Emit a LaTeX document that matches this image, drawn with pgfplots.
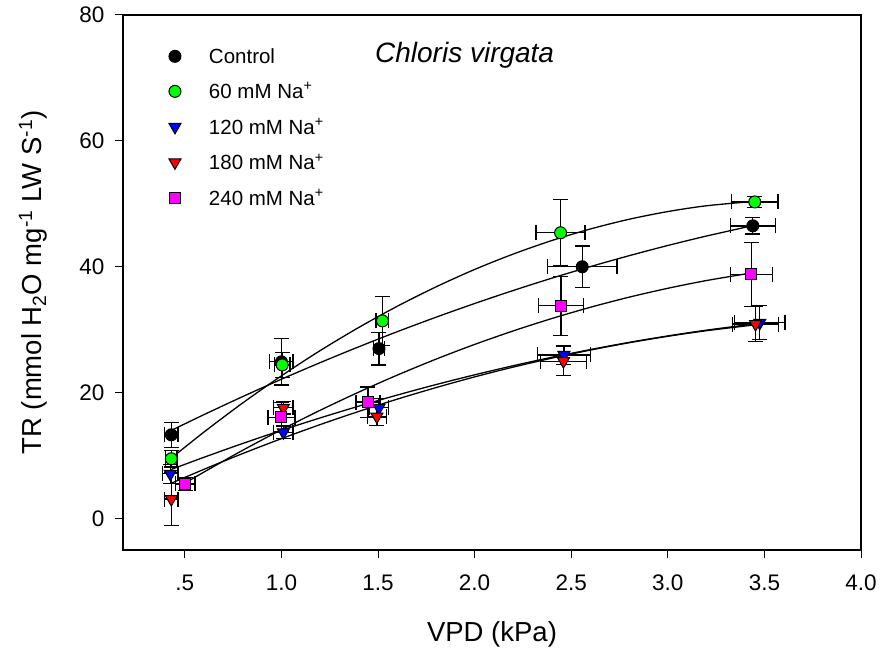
\documentclass[border=0pt]{standalone}
\usepackage{pgfplots}
\pgfplotsset{compat=1.18}
\usepackage{fontspec}
\setmainfont{Liberation Sans}
\definecolor{cgreen}{RGB}{0,255,0}
\definecolor{cblue}{RGB}{0,0,255}
\definecolor{cred}{RGB}{255,0,0}
\definecolor{cmag}{RGB}{255,0,255}
\begin{document}
\begin{tikzpicture}
\path[use as bounding box] (-123pt,-103pt) rectangle (758pt,550pt);
\begin{axis}[
  at={(0pt,0pt)}, anchor=south west,
  scale only axis, width=738pt, height=535pt,
  xmin=0.18, xmax=4.0, ymin=-5, ymax=80,
  xtick={0.5,1.0,1.5,2.0,2.5,3.0,3.5,4.0},
  xticklabels={.5,1.0,1.5,2.0,2.5,3.0,3.5,4.0},
  ytick={0,20,40,60,80},
  yticklabels={0,20,40,60,80},
  tick align=outside, xtick pos=bottom, ytick pos=left,
  major tick length=8pt,
  tick style={black, line width=1pt},
  axis line style={line width=1.2pt},
  ticklabel style={font=\fontsize{22.5}{27}\selectfont},
  xticklabel style={yshift=-13pt},
  yticklabel style={xshift=-7pt},
  xlabel={VPD (kPa)},
  ylabel={TR (mmol H\textsubscript{2}O mg\textsuperscript{-1} LW S\textsuperscript{-1})},
  label style={font=\fontsize{27.5}{33}\selectfont},
  xlabel style={at={(axis description cs:0.5,-0.158)}, anchor=center},
  ylabel style={at={(axis description cs:-0.122,0.5)}, anchor=center},
  legend style={at={(axis cs:0.36,75.4)}, anchor=north west, draw=none, fill=none,
    font=\fontsize{20.5}{24}\selectfont, row sep=14.2pt},
  legend cell align=left,
  legend image code/.code={\path[draw=none, fill=none] (-14pt,0pt) rectangle (32pt,0pt); \draw[#1] plot[only marks] coordinates {(0pt,0pt)};},
  error bars/error bar style={black, line width=1.3pt},
  error bars/error mark options={rotate=90, black, mark size=7.5pt, line width=1.3pt},
]
% fitted curves
\addplot[black, line width=1.3pt, smooth, no marks, forget plot] coordinates {
(0.43,14.00) (0.6,16.52) (0.8,19.38) (1.0,22.13) (1.2,24.76) (1.4,27.28) (1.6,29.69) (1.8,31.98) (2.0,34.16) (2.2,36.23) (2.4,38.19) (2.6,40.03) (2.8,41.76) (3.0,43.38) (3.2,44.88) (3.45,46.60)};
\addplot[black, line width=1.3pt, smooth, no marks, forget plot] coordinates {
(0.43,9.60) (0.6,13.76) (0.8,18.37) (1.0,22.67) (1.2,26.67) (1.4,30.35) (1.6,33.73) (1.8,36.80) (2.0,39.57) (2.2,42.02) (2.4,44.17) (2.6,46.01) (2.8,47.55) (3.0,48.77) (3.2,49.69) (3.45,50.40)};
\addplot[black, line width=1.3pt, smooth, no marks, forget plot] coordinates {
(0.43,7.80) (0.6,9.74) (0.8,11.93) (1.0,14.01) (1.2,15.98) (1.4,17.85) (1.6,19.62) (1.8,21.28) (2.0,22.83) (2.2,24.28) (2.4,25.62) (2.6,26.85) (2.8,27.99) (3.0,29.01) (3.2,29.93) (3.47,31.00)};
\addplot[black, line width=1.3pt, smooth, no marks, forget plot] coordinates {
(0.43,5.60) (0.6,7.83) (0.8,10.33) (1.0,12.69) (1.2,14.92) (1.4,17.01) (1.6,18.97) (1.8,20.80) (2.0,22.50) (2.2,24.06) (2.4,25.48) (2.6,26.77) (2.8,27.93) (3.0,28.95) (3.2,29.84) (3.46,30.80)};
\addplot[black, line width=1.3pt, smooth, no marks, forget plot] coordinates {
(0.5,5.60) (0.6,7.40) (0.8,10.85) (1.0,14.11) (1.2,17.19) (1.4,20.08) (1.6,22.79) (1.8,25.32) (2.0,27.66) (2.2,29.81) (2.4,31.78) (2.6,33.57) (2.8,35.17) (3.0,36.58) (3.2,37.81) (3.43,39.00)};
% data
\addplot[only marks, mark=*, mark size=6pt, mark options={draw=black, fill=black, line width=1pt},
  error bars/.cd, x dir=both, x explicit, y dir=both, y explicit]
  coordinates {
  (0.43,13.3) +- (0.035,2.0)
  (1.0,24.9) +- (0.06,3.7)
  (1.505,27.0) +- (0.03,2.6)
  (2.557,40.0) +- (0.18,3.3)
  (3.44,46.5) +- (0.117,1.3)};
\addlegendentry{Control}
\addplot[only marks, mark=*, mark size=6pt, mark options={draw=black, fill=cgreen, line width=1pt},
  error bars/.cd, x dir=both, x explicit, y dir=both, y explicit]
  coordinates {
  (0.43,9.5) +- (0.03,1.3)
  (1.004,24.4) +- (0.04,2.0)
  (1.523,31.4) +- (0.033,3.9)
  (2.445,45.4) +- (0.127,5.3)
  (3.45,50.3) +- (0.12,0.9)};
\addlegendentry{60 mM Na\textsuperscript{+}}
\addplot[only marks, mark=triangle*, mark size=7pt, mark options={rotate=180, draw=black, fill=cblue, line width=1pt},
  error bars/.cd, x dir=both, x explicit, y dir=both, y explicit]
  coordinates {
  (0.425,7.1) +- (0.04,1.5)
  (1.01,13.7) +- (0.05,1.0)
  (1.505,17.6) +- (0.05,1.5)
  (2.462,26.0) +- (0.137,1.5)
  (3.476,31.1) +- (0.13,2.7)};
\addlegendentry{120 mM Na\textsuperscript{+}}
\addplot[only marks, mark=triangle*, mark size=7pt, mark options={rotate=180, draw=black, fill=cred, line width=1pt},
  error bars/.cd, x dir=both, x explicit, y dir=both, y explicit]
  coordinates {
  (0.43,3.1) +- (0.035,4.2)
  (1.01,17.6) +- (0.05,1.0)
  (1.494,16.2) +- (0.05,1.4)
  (2.46,25.0) +- (0.12,2.3)
  (3.454,30.9) +- (0.12,2.8)};
\addlegendentry{180 mM Na\textsuperscript{+}}
\addplot[only marks, mark=square*, mark size=5.5pt, mark options={draw=black, fill=cmag, line width=1pt},
  error bars/.cd, x dir=both, x explicit, y dir=both, y explicit]
  coordinates {
  (0.503,5.5) +- (0.05,1.0)
  (1.0,16.1) +- (0.07,2.3)
  (1.448,18.5) +- (0.062,2.4)
  (2.447,33.8) +- (0.115,4.7)
  (3.433,38.8) +- (0.11,5.1)};
\addlegendentry{240 mM Na\textsuperscript{+}}
\node[anchor=base west, font=\fontsize{28}{34}\selectfont\itshape] at (axis cs:1.467,72.4) {Chloris virgata};
\end{axis}
\end{tikzpicture}
\end{document}
